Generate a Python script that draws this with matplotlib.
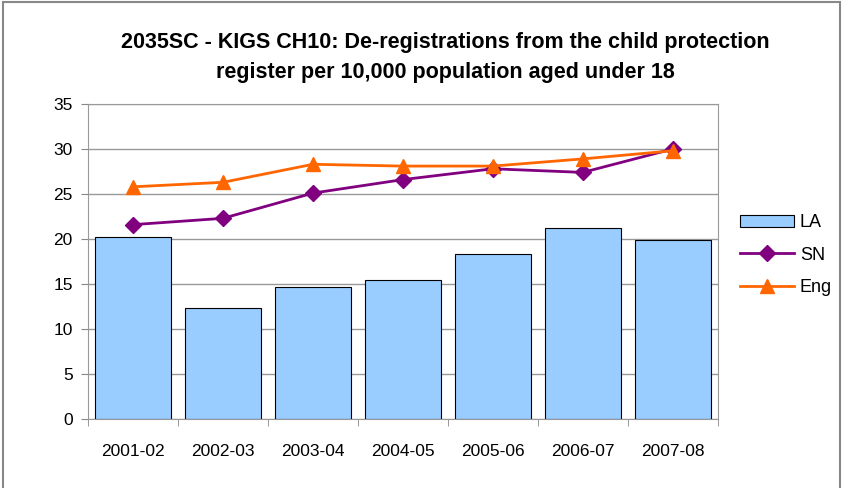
import matplotlib.pyplot as plt
import numpy as np
from matplotlib.patches import Rectangle

# values
years = ['2001-02', '2002-03', '2003-04', '2004-05', '2005-06', '2006-07', '2007-08']
la = [20.2, 12.3, 14.7, 15.4, 18.3, 21.2, 19.9]
sn = [21.6, 22.3, 25.1, 26.6, 27.8, 27.4, 30.0]
eng = [25.8, 26.3, 28.3, 28.1, 28.1, 28.9, 29.8]

plt.rcParams['font.family'] = ['Liberation Sans', 'DejaVu Sans']

fig = plt.figure(figsize=(8.43, 4.88), dpi=100)
fig.patches.append(Rectangle((0.003, -0.01), 0.994, 1.005, transform=fig.transFigure,
                             fill=False, edgecolor='#888888', linewidth=1.5))

ax = fig.add_axes([0.1044, 0.141, 0.747, 0.646])
x = np.arange(len(years))

b = ax.bar(x, la, width=0.84, color='#99CCFF', edgecolor='black', linewidth=0.8,
           label='LA', zorder=2)
l1, = ax.plot(x, sn, color='#800080', linewidth=2, marker='D', markersize=8,
              label='SN', zorder=3)
l2, = ax.plot(x, eng, color='#FF6600', linewidth=2, marker='^', markersize=10,
              label='Eng', zorder=3)

ax.set_xlim(-0.5, len(years) - 0.5)
ax.set_ylim(0, 35)
ax.set_yticks(range(0, 36, 5))
ax.set_xticks(x)
ax.set_xticklabels(years)
ax.set_xticks(np.arange(-0.5, len(years), 1), minor=True)
ax.tick_params(axis='x', which='major', length=0, pad=18, labelsize=12.5)
ax.tick_params(axis='x', which='minor', length=5, color='#888888')
ax.tick_params(axis='y', length=5, color='#888888', labelsize=12.5, pad=6)
ax.grid(axis='y', color='#999999', linewidth=1, zorder=0)
for s in ax.spines.values():
    s.set_color('#999999')

fig.text(0.528, 0.935, '2035SC - KIGS CH10: De-registrations from the child protection\n'
         'register per 10,000 population aged under 18',
         ha='center', va='top', fontsize=15.5, fontweight='bold', linespacing=1.55)

ax.legend([b, l1, l2], ['LA', 'SN', 'Eng'], loc='center left',
          bbox_to_anchor=(1.01, 0.52), frameon=False,
          fontsize=13, handlelength=3.0, labelspacing=0.85, handletextpad=0.3)

fig.savefig('out.png', dpi=100)
